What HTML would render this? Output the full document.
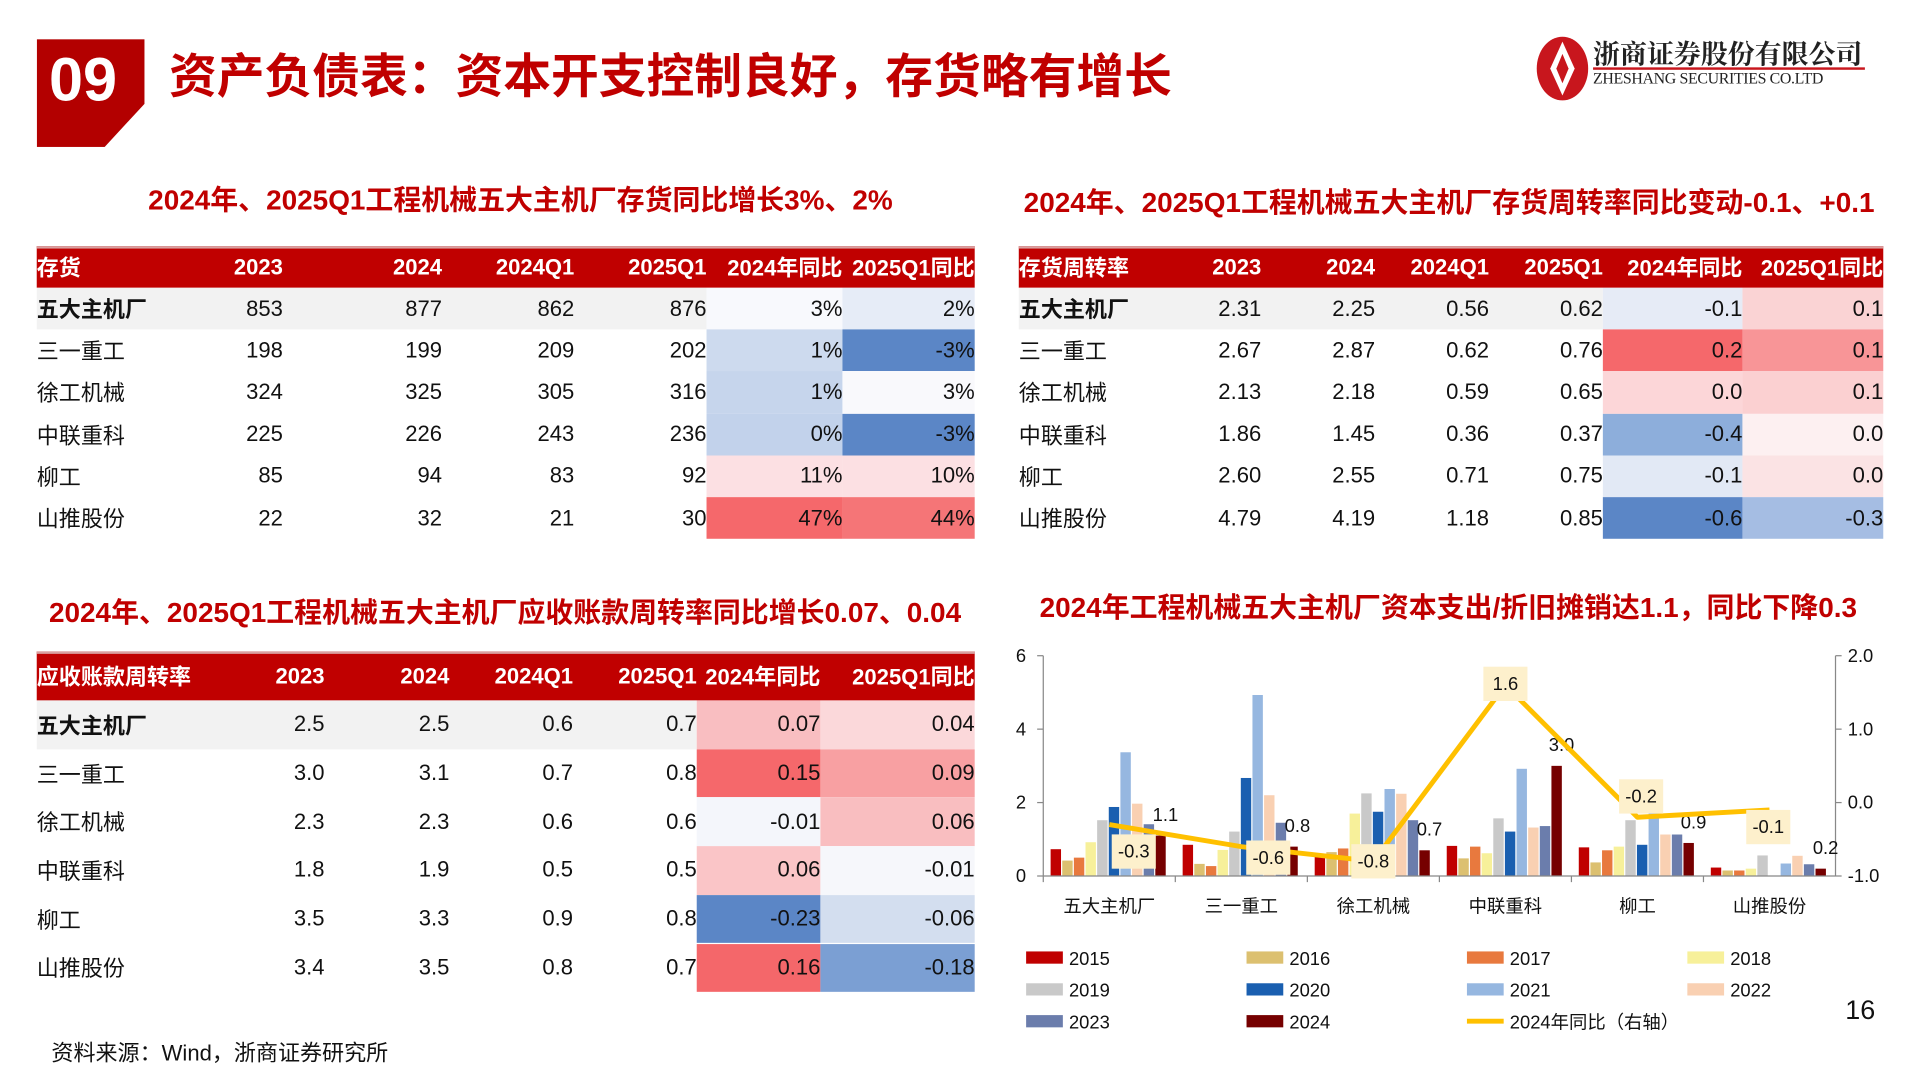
<!DOCTYPE html>
<html><head><meta charset="utf-8">
<style>
html,body{margin:0;padding:0;background:#fff;}
body{width:1920px;height:1080px;overflow:hidden;position:relative;}
#stage{position:absolute;left:0;top:0;width:1568px;height:882px;transform:scale(1.22449);transform-origin:0 0;font-family:"Liberation Sans","Noto Sans CJK SC",sans-serif;color:#111;}
.abs{position:absolute;}
.cell{position:absolute;box-sizing:border-box;display:flex;align-items:center;justify-content:flex-end;font-size:18px;white-space:nowrap;overflow:visible;}
.hd{color:#fff;font-weight:bold;}
.red-title{color:#c00000;font-weight:bold;font-size:22.8px;white-space:nowrap;}
</style></head><body>
<div id="stage">
  <div class="abs" style="left:30px;top:32px;width:88px;height:88px;background:#b30000;clip-path:polygon(0 0,100% 0,100% 60%,63% 100%,0 100%);"></div>
  <div class="abs" style="left:40px;top:36px;color:#fff;font-weight:bold;font-size:50px;">09</div>
  <div class="abs" style="left:138px;top:32px;color:#c00000;font-weight:bold;font-size:39px;white-space:nowrap;">资产负债表：资本开支控制良好，存货略有增长</div>
  <svg class="abs" style="left:1253px;top:28px;" width="46" height="56" viewBox="0 0 46 56"><ellipse cx="23" cy="28" rx="21" ry="26" fill="#c8161d"/><path d="M23 6 L33 28 L23 50 L13 28Z" fill="#fff"/><path d="M23 16 L28 28 L23 40 L18 28Z" fill="#c8161d"/></svg>
  <div class="abs" style="left:1301px;top:28px;font-size:22px;font-weight:bold;color:#222;white-space:nowrap;font-family:'Noto Serif CJK SC',serif;">浙商证券股份有限公司</div>
  <div class="abs" style="left:1301px;top:55px;width:222px;height:2px;background:#c8161d;"></div>
  <div class="abs" style="left:1301px;top:56px;font-size:13px;color:#222;white-space:nowrap;font-family:'Liberation Serif',serif;letter-spacing:-0.3px;">ZHESHANG SECURITIES CO.LTD</div>

  <div class="abs red-title" style="left:121px;top:145px;">2024年、2025Q1工程机械五大主机厂存货同比增长3%、2%</div>
  <div class="abs red-title" style="left:836px;top:147px;">2024年、2025Q1工程机械五大主机厂存货周转率同比变动-0.1、+0.1</div>
  <div class="abs red-title" style="left:40px;top:482px;">2024年、2025Q1工程机械五大主机厂应收账款周转率同比增长0.07、0.04</div>
  <div class="abs red-title" style="left:849px;top:478px;">2024年工程机械五大主机厂资本支出/折旧摊销达1.1，同比下降0.3</div>

  <div id="t1"></div>
  <div id="t2"></div>
  <div id="t3"></div>

  <svg id="chart" class="abs" style="left:0;top:0;" width="1568" height="882"></svg>

  <div class="abs" style="left:42px;top:846px;font-size:18px;">资料来源：Wind，浙商证券研究所</div>
  <div class="abs" style="left:1507px;top:812px;font-size:22px;">16</div>
</div>
<script>
var companies=["五大主机厂","三一重工","徐工机械","中联重科","柳工","山推股份"];
var t1Head=["存货","2023","2024","2024Q1","2025Q1","2024年同比","2025Q1同比"];
var t1Vals=[["853","877","862","876","3%","2%"],["198","199","209","202","1%","-3%"],["324","325","305","316","1%","3%"],["225","226","243","236","0%","-3%"],["85","94","83","92","11%","10%"],["22","32","21","30","47%","44%"]];
var t1Col=[["#f8f9fd","#e6ecf7"],["#cddaee","#5b86c6"],["#c6d5ec","#f9f9fc"],["#c2d2eb","#5b86c6"],["#fce0e3","#fce0e3"],["#f5686b","#f57577"]];
var t2Head=["存货周转率","2023","2024","2024Q1","2025Q1","2024年同比","2025Q1同比"];
var t2Vals=[["2.31","2.25","0.56","0.62","-0.1","0.1"],["2.67","2.87","0.62","0.76","0.2","0.1"],["2.13","2.18","0.59","0.65","0.0","0.1"],["1.86","1.45","0.36","0.37","-0.4","0.0"],["2.60","2.55","0.71","0.75","-0.1","0.0"],["4.79","4.19","1.18","0.85","-0.6","-0.3"]];
var t2Col=[["#e6ebf6","#fad3d4"],["#f5686b","#f89597"],["#fcd6d8","#fbd0d1"],["#8daedb","#fdf0f1"],["#e2e9f5","#fbe3e4"],["#5b86c6","#a5bde3"]];
var t3Head=["应收账款周转率","2023","2024","2024Q1","2025Q1","2024年同比","2025Q1同比"];
var t3Vals=[["2.5","2.5","0.6","0.7","0.07","0.04"],["3.0","3.1","0.7","0.8","0.15","0.09"],["2.3","2.3","0.6","0.6","-0.01","0.06"],["1.8","1.9","0.5","0.5","0.06","-0.01"],["3.5","3.3","0.9","0.8","-0.23","-0.06"],["3.4","3.5","0.8","0.7","0.16","-0.18"]];
var t3Col=[["#f9bec1","#fbd8da"],["#f5686b","#f8a0a2"],["#f4f6fb","#f9bec0"],["#fac5c7","#f6f7fb"],["#5b86c6","#d3deef"],["#f4676a","#7b9fd3"]];

function buildTable(id,head,vals,cols,edges,top,hh,rh,hfs){
  var host=document.getElementById(id);
  var hdr=document.createElement('div');
  
  
  hdr.className='abs';
  hdr.style.cssText='left:'+edges[0]+'px;top:'+top+'px;width:'+(edges[7]-edges[0])+'px;height:'+hh+'px;background:#c00000;border-top:2px solid #d9a0a0;box-sizing:border-box;';
  host.appendChild(hdr);
  for(var c=0;c<7;c++){
    var h=document.createElement('div');
    
    
    h.className='cell hd';
    h.style.left=edges[c]+'px';h.style.top=top+'px';h.style.width=(edges[c+1]-edges[c])+'px';h.style.height=hh+'px';h.style.fontSize=hfs+'px';
    if(c==0)h.style.justifyContent='flex-start';
    h.textContent=head[c];host.appendChild(h);
  }
  for(var r=0;r<6;r++){
    var y=top+hh+r*rh;
    if(r==0){
      var bg=document.createElement('div');
      
      
      bg.className='abs';
      bg.style.cssText='left:'+edges[0]+'px;top:'+y+'px;width:'+(edges[5]-edges[0])+'px;height:'+rh+'px;background:#f2f2f2;';
      host.appendChild(bg);
    }
    var lab=document.createElement('div');
    
    
    lab.className='cell';
    lab.style.left=edges[0]+'px';lab.style.top=y+'px';lab.style.width=(edges[1]-edges[0])+'px';lab.style.height=rh+'px';lab.style.justifyContent='flex-start';
    if(r==0)lab.style.fontWeight='bold';
    lab.textContent=companies[r];host.appendChild(lab);
    for(var c=0;c<6;c++){
      var d=document.createElement('div');
      
      
      d.className='cell';
      d.style.left=edges[c+1]+'px';d.style.top=y+'px';d.style.width=(edges[c+2]-edges[c+1])+'px';d.style.height=rh+'px';
      if(c>=4)d.style.background=cols[r][c-4];
      d.textContent=vals[r][c];host.appendChild(d);
    }
  }
}
buildTable('t1',t1Head,t1Vals,t1Col,[30,130,231,361,469,577,688,796],201,34,34.2,18);
buildTable('t2',t2Head,t2Vals,t2Col,[832,937,1030,1123,1216,1309,1423,1538],201,34,34.2,18);
buildTable('t3',t3Head,t3Vals,t3Col,[30,160,265,367,468,569,670,796],532,40,39.7,18);

// ---- chart data ----
var years=["2015","2016","2017","2018","2019","2020","2021","2022","2023","2024"];
var s2015=[0.73,0.85,0.55,0.82,0.78,0.23];
var s2016=[0.42,0.33,0.65,0.48,0.37,0.15];
var s2017=[0.50,0.27,0.75,0.80,0.70,0.15];
var s2018=[0.92,0.71,1.70,0.62,0.80,0.20];
var s2019=[1.52,1.21,2.25,1.57,1.52,0.56];
var s2020=[1.88,2.67,1.75,1.21,0.85,0.00];
var s2021=[3.37,4.93,2.37,2.92,1.75,0.34];
var s2022=[1.97,2.20,2.24,1.32,1.13,0.55];
var s2023=[1.41,1.45,1.52,1.36,1.13,0.32];
var s2024=[1.1,0.8,0.7,3.0,0.9,0.2];
var yoy=[-0.3,-0.6,-0.8,1.6,-0.2,-0.1];
var leftTicks=[0,2,4,6];
var rightTicks=["-1.0","0.0","1.0","2.0"];
var colors=["#c00000","#dcc070","#e8793e","#f7f09a","#c9c9c9","#1a5fb0","#96b7e0","#f9d0b2","#6b7dac","#760000"];
var series=[s2015,s2016,s2017,s2018,s2019,s2020,s2021,s2022,s2023,s2024];

var NS='http://www.w3.org/2000/svg';
var svg=document.getElementById('chart');
var X0=852,X1=1499,YT=535.5,YB=715.4;
var gw=(X1-X0)/companies.length;
function yL(v){return YB-(v/6)*(YB-YT);}
function yR(v){return YB-((v+1)/3)*(YB-YT);}
function el(tag,attrs){var e=document.createElementNS(NS,tag);for(var k in attrs)e.setAttribute(k,attrs[k]);svg.appendChild(e);return e;}
function tx(x,y,s,anchor,size){var t=el('text',{x:x,y:y,'text-anchor':anchor||'middle','font-size':size||15,fill:'#111','font-family':'Liberation Sans, Noto Sans CJK SC, sans-serif'});t.textContent=s;return t;}

var a=el('line',{x1:X0,y1:YT,x2:X0,y2:YB,stroke:'#888','stroke-width':1});


var a2=el('line',{x1:X1,y1:YT,x2:X1,y2:YB,stroke:'#888','stroke-width':1});


leftTicks.forEach(function(v){var l=el('line',{x1:X0-5,y1:yL(v),x2:X0,y2:yL(v),stroke:'#888'});var t=tx(X0-14,yL(v)+5,String(v),'end',15);});
rightTicks.forEach(function(s){var v=parseFloat(s);var l=el('line',{x1:X1,y1:yR(v),x2:X1+5,y2:yR(v),stroke:'#888'});var t=tx(X1+10,yR(v)+5,s,'start',15);});

var bw=8.5,step=9.5,off=6;
for(var g=0;g<companies.length;g++){
  var gx=X0+g*gw;
  for(var s=0;s<series.length;s++){
    var v=series[s][g];
    var b=el('rect',{x:gx+off+s*step,y:yL(v),width:bw,height:YB-yL(v),fill:colors[s]});
    
    
  }
  var lb=tx(gx+off+9*step+bw/2+4,yL(s2024[g])-12,s2024[g].toFixed(1),'middle',15);
  
  
  var tk=el('line',{x1:gx,y1:YB,x2:gx,y2:YB+5,stroke:'#888'});
  
  
  var cl=tx(gx+gw/2,YB+30,companies[g],'middle',15);
  
  
}
var xa=el('line',{x1:X0,y1:YB,x2:X1,y2:YB,stroke:'#888'});


var pts=yoy.map(function(v,i){return (X0+(i+0.5)*gw)+','+yR(v);}).join(' ');
var pl=el('polyline',{points:pts,fill:'none',stroke:'#ffc000','stroke-width':4,'stroke-linejoin':'round'});


var lblOff=[[20,22],[22,9],[0,0],[0,-1],[3,-17],[-1,14]];
yoy.forEach(function(v,i){
  var cx=X0+(i+0.5)*gw+lblOff[i][0],cy=yR(v)+lblOff[i][1];
  var r=el('rect',{x:cx-18,y:cy-14,width:36,height:28,fill:'#fdf0cc'});
  
  
  var t=tx(cx,cy+5,v.toFixed(1),'middle',15);
  
  
});
// legend
var lx=[838,1018,1198,1378],ly=[782,808,834];
for(var i=0;i<years.length;i++){
  var x=lx[i%4],y=ly[Math.floor(i/4)];
  var sw=el('rect',{x:x,y:y-5,width:30,height:10,fill:colors[i]});
  
  
  var t=tx(x+35,y+6,years[i],'start',15);
  
  
}
var ll=el('line',{x1:1198,y1:834,x2:1228,y2:834,stroke:'#ffc000','stroke-width':4});


var lt=tx(1233,840,'2024年同比（右轴）','start',15);


</script>
</body></html>
